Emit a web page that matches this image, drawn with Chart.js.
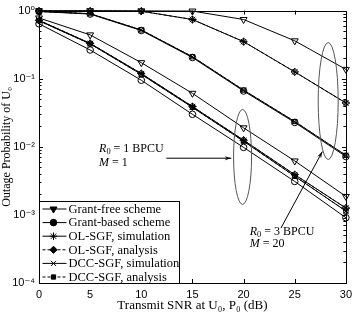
<!DOCTYPE html>
<html>
<head>
<meta charset="utf-8">
<script src="https://cdn.jsdelivr.net/npm/chart.js@4.4.0/dist/chart.umd.min.js"></script>
<style>
  html, body { margin: 0; padding: 0; background: #fff; }
</style>
</head>
<body>
<canvas id="chart" width="357" height="315"></canvas>
<script>
// transmit SNR (dB)
const snr = [0, 5, 10, 15, 20, 25, 30];
const yTicks = [1e-4, 1e-3, 1e-2, 1e-1, 1];
const yTickLabels = ['10\u207B\u2074', '10\u207B\u00B3', '10\u207B\u00B2', '10\u207B\u00B9', '10\u2070'];

// R0 = 1 BPCU, M = 1
const gfLow     = [0.78, 0.44, 0.172, 0.061, 0.019, 0.0062, 0.00187];
const gbLow     = [0.64, 0.264, 0.095, 0.030, 0.0098, 0.0031, 0.00091];
const olSimLow  = [0.72, 0.33, 0.119, 0.039, 0.0125, 0.0039, 0.00126];
const olAnaLow  = [0.72, 0.33, 0.119, 0.039, 0.0125, 0.0039, 0.00126];
const dccSimLow = [0.71, 0.325, 0.116, 0.038, 0.0121, 0.0037, 0.00114];
const dccAnaLow = [0.71, 0.325, 0.116, 0.038, 0.0121, 0.0037, 0.00114];

// R0 = 3 BPCU, M = 20
const gfUp     = [0.995, 0.995, 0.99, 0.985, 0.74, 0.36, 0.137];
const gbUp     = [0.97, 0.89, 0.51, 0.205, 0.066, 0.0228, 0.0072];
const olSimUp  = [0.985, 0.985, 0.98, 0.74, 0.35, 0.126, 0.044];
const olAnaUp  = [0.985, 0.985, 0.98, 0.74, 0.35, 0.126, 0.044];
const dccSimUp = [0.975, 0.90, 0.52, 0.21, 0.068, 0.0235, 0.0075];
const dccAnaUp = [0.975, 0.90, 0.52, 0.21, 0.068, 0.0235, 0.0075];

const seriesNames = ['Grant-free scheme', 'Grant-based scheme', 'OL-SGF, simulation',
  'OL-SGF, analysis', 'DCC-SGF, simulation', 'DCC-SGF, analysis'];

const looks = [
  { pointStyle: 'triangle', rotation: 180, radius: 4, dash: [] },
  { pointStyle: 'circle', rotation: 0, radius: 3.3, dash: [] },
  { pointStyle: 'star', rotation: 0, radius: 3.8, dash: [] },
  { pointStyle: 'rectRot', rotation: 0, radius: 3.6, dash: [3, 2] },
  { pointStyle: 'crossRot', rotation: 0, radius: 3.6, dash: [] },
  { pointStyle: 'rect', rotation: 0, radius: 3, dash: [3, 2] },
];

const groups = [
  [gfLow, gbLow, olSimLow, olAnaLow, dccSimLow, dccAnaLow],
  [gfUp, gbUp, olSimUp, olAnaUp, dccSimUp, dccAnaUp],
];

const datasets = [];
groups.forEach((grp, g) => {
  grp.forEach((vals, i) => {
    const lk = looks[i];
    datasets.push({
      label: seriesNames[i],
      data: snr.map((x, k) => ({ x: x, y: vals[k] })),
      borderColor: '#000',
      borderWidth: 1,
      borderDash: lk.dash,
      backgroundColor: 'rgba(0,0,0,0)',
      pointStyle: lk.pointStyle,
      pointRotation: lk.rotation,
      pointRadius: lk.radius,
      pointBorderWidth: 1,
      pointBorderColor: '#000',
      pointBackgroundColor: 'rgba(0,0,0,0)',
      tension: 0,
      clip: 5,
      showInLegend: g === 0,
    });
  });
});

const serif = '"Liberation Serif", "DejaVu Serif", serif';
const sans = '"Liberation Sans", "DejaVu Sans", sans-serif';

// text pieces: [text, italic, subscript]
function drawRich(ctx, parts, x, y, size) {
  ctx.textBaseline = 'middle';
  ctx.textAlign = 'left';
  parts.forEach(p => {
    const sz = p[2] ? size * 0.7 : size;
    ctx.font = (p[1] ? 'italic ' : '') + sz + 'px ' + serif;
    ctx.fillText(p[0], x, p[2] ? y + size * 0.25 : y);
    x += ctx.measureText(p[0]).width;
  });
}

function arrow(ctx, x1, y1, x2, y2) {
  ctx.beginPath();
  ctx.moveTo(x1, y1);
  ctx.lineTo(x2, y2);
  ctx.stroke();
  const a = Math.atan2(y2 - y1, x2 - x1);
  ctx.beginPath();
  ctx.moveTo(x2, y2);
  ctx.lineTo(x2 - 7 * Math.cos(a - 0.3), y2 - 7 * Math.sin(a - 0.3));
  ctx.lineTo(x2 - 4.5 * Math.cos(a), y2 - 4.5 * Math.sin(a));
  ctx.lineTo(x2 - 7 * Math.cos(a + 0.3), y2 - 7 * Math.sin(a + 0.3));
  ctx.closePath();
  ctx.fill();
}

const decor = {
  id: 'decor',
  afterDraw(chart) {
    const ctx = chart.ctx;
    const a = chart.chartArea;
    const xs = chart.scales.x, ys = chart.scales.y;
    ctx.save();
    ctx.strokeStyle = '#000';
    ctx.fillStyle = '#000';
    ctx.lineWidth = 1;

    // inward ticks on all four sides
    ctx.beginPath();
    snr.forEach(v => {
      if (v === 0 || v === 30) return;
      const px = Math.round(xs.getPixelForValue(v)) + 0.5;
      ctx.moveTo(px, a.bottom); ctx.lineTo(px, a.bottom - 4);
      ctx.moveTo(px, a.top); ctx.lineTo(px, a.top + 4);
    });
    for (let e = -4; e < 0; e++) {
      for (let m = 1; m < 10; m++) {
        const v = m * Math.pow(10, e);
        const py = Math.round(ys.getPixelForValue(v)) + 0.5;
        const len = m === 1 ? 4 : 2.5;
        ctx.moveTo(a.left, py); ctx.lineTo(a.left + len, py);
        ctx.moveTo(a.right, py); ctx.lineTo(a.right - len, py);
      }
    }
    ctx.stroke();

    // plot box
    ctx.strokeRect(Math.round(a.left) + 0.5, Math.round(a.top) + 0.5,
      Math.round(a.right - a.left), Math.round(a.bottom - a.top));

    // legend
    const lx = Math.round(a.left) + 0.5, lw = 140, rowH = 13.6;
    const lTop = Math.round(a.bottom) - 82 + 0.5;
    ctx.fillStyle = '#fff';
    ctx.fillRect(lx, lTop, lw, Math.round(a.bottom) + 0.5 - lTop);
    ctx.fillStyle = '#000';
    ctx.strokeRect(lx, lTop, lw, Math.round(a.bottom) + 0.5 - lTop);
    chart.data.datasets.filter(d => d.showInLegend).forEach((d, i) => {
      const y = lTop + 7.5 + i * rowH;
      ctx.save();
      ctx.setLineDash(d.borderDash);
      ctx.beginPath();
      ctx.moveTo(lx + 3, y); ctx.lineTo(lx + 27, y);
      ctx.stroke();
      ctx.restore();
      Chart.helpers.drawPoint(ctx, {
        pointStyle: d.pointStyle, rotation: d.pointRotation,
        radius: d.pointRadius, borderWidth: 1
      }, lx + 14, y);
      ctx.font = '12.5px ' + serif;
      ctx.textBaseline = 'middle';
      ctx.fillText(d.label, lx + 29, y + 0.5);
    });

    // annotations
    const P = (x, y) => [xs.getPixelForValue(x), ys.getPixelForValue(y)];
    ctx.strokeStyle = '#555';
    ctx.beginPath();
    let c = P(19.9, 0.0071);
    ctx.ellipse(c[0], c[1], 9, 47.5, 0, 0, Math.PI * 2);
    ctx.stroke();
    ctx.beginPath();
    c = P(28.27, 0.047);
    ctx.ellipse(c[0], c[1], 10, 58.5, 0, 0, Math.PI * 2);
    ctx.stroke();

    ctx.strokeStyle = '#000';
    let p1 = P(12.45, 0.0068), p2 = P(18.8, 0.0068);
    arrow(ctx, p1[0], p1[1], p2[0], p2[1]);
    p1 = P(23.65, 0.00064); p2 = P(27.7, 0.0085);
    arrow(ctx, p1[0], p1[1], p2[0], p2[1]);

    let t = P(5.87, 0.0092);
    drawRich(ctx, [['R', true], ['0', false, true], [' = 1 BPCU', false]], t[0], t[1], 12);
    t = P(5.87, 0.0058);
    drawRich(ctx, [['M', true], [' = 1', false]], t[0], t[1], 12);
    t = P(20.6, 0.00057);
    drawRich(ctx, [['R', true], ['0', false, true], [' = 3 BPCU', false]], t[0], t[1], 12);
    t = P(20.6, 0.00038);
    drawRich(ctx, [['M', true], [' = 20', false]], t[0], t[1], 12);
    ctx.restore();
  }
};

new Chart(document.getElementById('chart'), {
  type: 'line',
  data: { datasets: datasets },
  options: {
    responsive: false,
    animation: false,
    devicePixelRatio: 1,
    layout: { padding: { top: 6, right: 6, left: 0, bottom: 0 } },
    plugins: {
      legend: { display: false },
      tooltip: { enabled: false },
    },
    scales: {
      x: {
        type: 'linear',
        min: 0, max: 30,
        afterBuildTicks: s => { s.ticks = snr.map(v => ({ value: v })); },
        afterFit: s => { s.height = 32; },
        grid: { display: false, drawTicks: false },
        border: { display: false },
        ticks: { color: '#000', font: { family: sans, size: 11 }, padding: 5, maxRotation: 0 },
        title: { display: true, text: 'Transmit SNR at U\u2080, P\u2080 (dB)', color: '#000',
          font: { family: serif, size: 13 }, padding: { top: 0, bottom: 2 } },
      },
      y: {
        type: 'logarithmic',
        min: 1e-4, max: 1,
        afterBuildTicks: s => { s.ticks = yTicks.map(v => ({ value: v })); },
        afterFit: s => { s.width = 39; },
        grid: { display: false, drawTicks: false },
        border: { display: false },
        ticks: {
          color: '#000', font: { family: sans, size: 11 }, padding: 4,
          callback: (v) => yTickLabels[yTicks.findIndex(t => Math.abs(Math.log10(t) - Math.log10(v)) < 1e-6)] || '',
        },
        title: { display: true, text: 'Outage Probability of U\u2080', color: '#000',
          font: { family: serif, size: 12 }, padding: { top: 0, bottom: 0 } },
      },
    },
  },
  plugins: [decor],
});
</script>
</body>
</html>
